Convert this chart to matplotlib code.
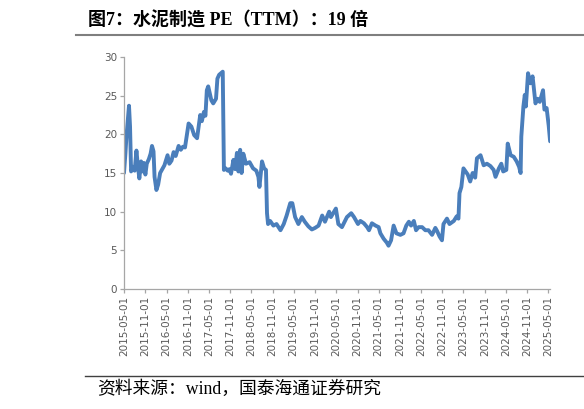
import matplotlib
matplotlib.use("Agg")
import matplotlib.pyplot as plt
import pandas as pd
from matplotlib.lines import Line2D

title = "图7：水泥制造 PE（TTM）：19 倍"
source = "资料来源：wind，国泰海通证券研究"

dates = [
    "2015-05-01", "2015-05-13", "2015-05-22", "2015-06-13", "2015-06-22", "2015-07-01", "2015-07-16",
    "2015-08-01", "2015-08-16", "2015-08-28", "2015-09-10", "2015-09-25", "2015-10-07", "2015-10-19",
    "2015-11-01", "2015-11-13", "2015-12-01", "2015-12-16", "2015-12-28", "2016-01-10", "2016-01-19",
    "2016-02-04", "2016-02-19", "2016-03-07", "2016-03-25", "2016-04-13", "2016-05-10", "2016-05-25",
    "2016-06-13", "2016-07-01", "2016-07-19", "2016-08-13", "2016-09-01", "2016-09-19", "2016-10-07",
    "2016-11-07", "2016-12-01", "2016-12-25", "2017-01-19", "2017-02-15", "2017-03-01", "2017-03-19",
    "2017-04-01", "2017-04-13", "2017-04-25", "2017-05-10", "2017-05-22", "2017-06-07", "2017-07-01",
    "2017-07-13", "2017-07-28", "2017-08-28", "2017-09-07", "2017-09-22", "2017-10-10", "2017-10-25",
    "2017-11-07", "2017-11-28", "2017-12-13", "2017-12-28", "2018-01-10", "2018-01-25", "2018-02-06",
    "2018-02-21", "2018-03-16", "2018-04-16", "2018-05-16", "2018-06-13", "2018-07-01", "2018-07-10",
    "2018-08-01", "2018-08-19", "2018-09-04", "2018-09-13", "2018-09-22", "2018-10-10", "2018-11-07",
    "2018-12-04", "2019-01-07", "2019-02-04", "2019-03-01", "2019-04-01", "2019-04-19", "2019-05-13",
    "2019-06-10", "2019-07-10", "2019-08-04", "2019-09-04", "2019-10-04", "2019-11-01", "2019-12-01",
    "2020-01-01", "2020-01-25", "2020-03-01", "2020-03-16", "2020-04-28", "2020-05-19", "2020-06-19",
    "2020-08-01", "2020-09-07", "2020-10-01", "2020-11-04", "2020-11-25", "2020-12-25", "2021-01-22",
    "2021-02-07", "2021-03-04", "2021-04-04", "2021-05-01", "2021-05-16", "2021-06-13", "2021-07-10",
    "2021-07-25", "2021-08-16", "2021-09-07", "2021-10-01", "2021-11-04", "2021-12-01", "2021-12-25",
    "2022-01-16", "2022-02-04", "2022-02-28", "2022-03-19", "2022-04-10", "2022-05-10", "2022-06-07",
    "2022-07-04", "2022-08-04", "2022-09-01", "2022-09-16", "2022-10-07", "2022-10-28", "2022-11-10",
    "2022-12-10", "2023-01-01", "2023-02-07", "2023-03-04", "2023-03-19", "2023-03-28", "2023-04-13",
    "2023-05-01", "2023-05-19", "2023-06-07", "2023-06-28", "2023-07-19", "2023-08-10", "2023-08-25",
    "2023-09-25", "2023-10-22", "2023-11-19", "2023-12-19", "2024-01-16", "2024-02-01", "2024-03-01",
    "2024-03-22", "2024-04-07", "2024-05-04", "2024-05-16", "2024-06-10", "2024-07-07", "2024-08-01",
    "2024-08-22", "2024-09-04", "2024-09-10", "2024-09-28", "2024-10-10", "2024-10-19", "2024-11-07",
    "2024-11-28", "2024-12-16", "2025-01-10", "2025-01-28", "2025-02-16", "2025-03-16", "2025-03-28",
    "2025-04-16", "2025-05-04", "2025-05-16",
]
pe = [
    15.0, 17.5, 19.7, 23.7, 21.0, 15.2, 15.8,
    15.3, 17.9, 16.0, 14.3, 16.5, 15.2, 16.3,
    14.8, 16.2, 16.8, 17.5, 18.5, 17.8, 14.5,
    12.8, 13.5, 15.0, 15.5, 16.0, 17.3, 16.2,
    16.6, 17.7, 17.2, 18.5, 18.0, 18.4, 18.3,
    21.4, 21.0, 19.9, 19.5, 22.5, 21.7, 22.9,
    22.4, 25.7, 26.2, 25.2, 24.4, 24.0, 24.6,
    27.2, 27.7, 28.1, 15.4, 15.6, 15.3, 15.5,
    14.9, 16.7, 15.5, 17.6, 15.2, 18.0, 15.0,
    17.5, 16.2, 16.4, 15.6, 15.3, 14.5, 13.2,
    16.5, 15.6, 15.4, 9.8, 8.4, 8.8, 8.2,
    8.4, 7.6, 8.4, 9.5, 11.1, 11.1, 9.3,
    8.4, 9.3, 8.7, 8.1, 7.7, 7.9, 8.2,
    9.5, 8.7, 10.0, 9.3, 10.4, 8.4, 8.0,
    9.3, 9.8, 9.3, 8.4, 8.8, 8.5, 8.0,
    7.6, 8.5, 8.2, 8.0, 7.2, 6.5, 6.0,
    5.6, 6.3, 8.2, 7.2, 7.0, 7.2, 8.2,
    8.7, 8.2, 8.8, 7.6, 8.0, 8.0, 7.6,
    7.6, 7.0, 7.9, 7.5, 6.8, 6.3, 8.4,
    9.1, 8.4, 8.8, 9.4, 9.1, 12.4, 13.2,
    15.6, 15.2, 14.8, 13.9, 15.0, 14.4, 16.9,
    17.3, 16.0, 16.2, 15.9, 15.4, 14.5, 15.6,
    16.2, 15.2, 15.4, 18.8, 17.3, 17.1, 16.5,
    15.8, 15.0, 19.7, 23.6, 25.1, 23.6, 27.9,
    26.6, 27.5, 24.0, 24.6, 24.2, 25.7, 23.2,
    23.4, 21.1, 19.1,
]
tick_dates = [f"{y}-{m}-01" for y in range(2015, 2026) for m in ("05", "11")][:-1]
y_ticks = [0, 5, 10, 15, 20, 25, 30]

x = pd.to_datetime(dates)
xt = pd.to_datetime(tick_dates)

fig = plt.figure(figsize=(5.84, 4.09), dpi=100)
ax = fig.add_axes([124/584, 1-289/409, (550-124)/584, (289-57)/409])

ax.plot(x, pe, color="#4A7EBB", lw=2.8, solid_joinstyle="round", solid_capstyle="round")

ax.set_ylim(0, 30)
ax.set_yticks(y_ticks)
ax.set_xlim(pd.Timestamp("2015-05-01"), pd.Timestamp("2025-05-15"))
ax.set_xticks(xt)
ax.set_xticklabels(tick_dates, rotation=90)

for s in ("top", "right"):
    ax.spines[s].set_visible(False)
for s in ("left", "bottom"):
    ax.spines[s].set_color("#A6A6A6")
    ax.spines[s].set_linewidth(0.9)
ax.tick_params(axis="both", colors="#A6A6A6", labelcolor="#595959", labelsize=7.5,
               length=3, width=0.9, direction="out", pad=2)

fig.text(88/584, 1-21/409, title, fontsize=13, fontweight="bold",
         family=["Liberation Serif", "Noto Sans CJK SC"], va="center", ha="left", color="#000000")
fig.add_artist(Line2D([76/584, 1.0], [1-35/409, 1-35/409], color="#7F7F7F", lw=1.5,
                      transform=fig.transFigure))
fig.add_artist(Line2D([85/584, 1.0], [1-376/409, 1-376/409], color="#404040", lw=1.0,
                      transform=fig.transFigure))
fig.text(97/584, 1-389/409, source, fontsize=12.8,
         family=["Liberation Serif", "Noto Sans CJK SC"], va="center", ha="left", color="#000000")

fig.savefig("out.png", dpi=100)
